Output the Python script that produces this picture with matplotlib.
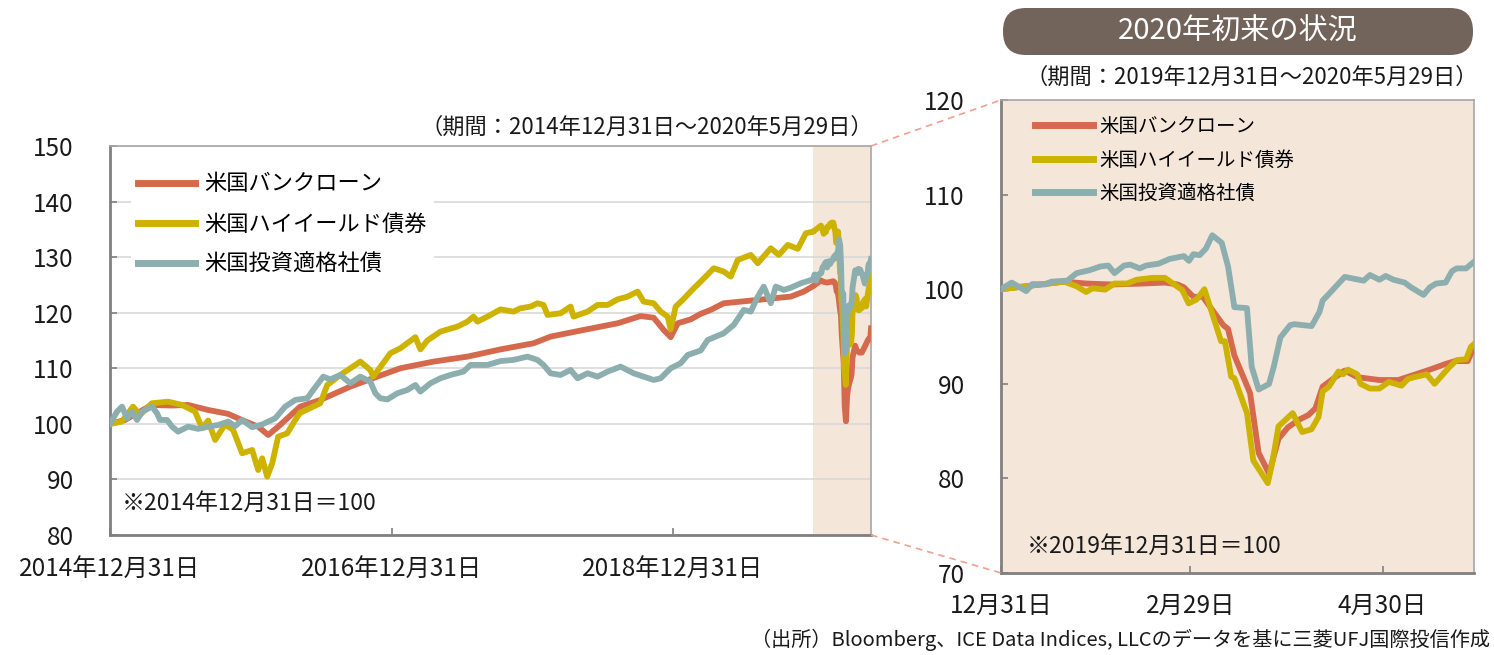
import numpy as np
import pandas as pd
import matplotlib
matplotlib.use("Agg")
import matplotlib.pyplot as plt
from matplotlib.patches import FancyBboxPatch
from matplotlib.lines import Line2D

plt.rcParams['font.family'] = ['Noto Sans CJK JP', 'DejaVu Sans']

# ---------------- data ----------------
series_names = ["米国バンクローン", "米国ハイイールド債券", "米国投資適格社債"]
colors = ["#D5694D", "#CDB300", "#8DAEAE"]

# Long-term chart (years since 2014-12-31, index 2014/12/31 = 100)
bl_years = [0, 0.107, 0.297, 0.439, 0.555, 0.698, 0.840, 0.937, 1.053, 1.125, 1.196, 1.352,
            1.495, 1.708, 1.900, 2.064, 2.299, 2.541, 2.776, 3.011, 3.132, 3.367, 3.609,
            3.772, 3.865, 3.936, 3.986, 4.036, 4.128, 4.199, 4.270, 4.363, 4.484, 4.605,
            4.719, 4.840, 4.932, 5.0]
bl_vals = [100.0, 100.7, 103.4, 103.3, 103.4, 102.5, 101.8, 100.7, 99.5, 98.0, 99.5, 103.1,
           104.3, 106.7, 108.5, 110.0, 111.2, 112.1, 113.4, 114.5, 115.7, 116.9, 118.1,
           119.4, 119.1, 116.9, 115.6, 118.1, 118.8, 119.8, 120.5, 121.7, 122.0, 122.3,
           122.6, 122.9, 123.8, 124.8]

# High yield / investment grade: horizontal reading positions (pixel columns of the reference)
hy_x = [110, 121.7, 133, 140, 151.7, 168, 182, 195, 202, 208, 215, 225, 233, 242, 252, 258,
        262, 267, 272, 278, 287, 295, 300, 320, 327, 340, 360, 370, 373, 390, 400, 415, 420,
        427, 440, 457, 467, 473, 477, 487, 500, 513, 520, 530, 537, 543, 547, 560, 570, 573,
        587, 597, 607, 617, 627, 637, 643, 653, 660, 667, 670, 675, 682, 692, 700, 713, 723,
        730, 737, 750, 757, 770, 778, 787, 797, 805, 812.5]
hy_vals = [100.0, 100.4, 103.1, 101.6, 103.7, 104.0, 103.4, 102.2, 99.2, 100.6, 97.1, 99.9,
           98.9, 94.7, 95.3, 91.7, 93.8, 90.5, 92.9, 97.7, 98.3, 100.7, 102.0, 103.7, 107.0,
           108.8, 111.2, 109.7, 108.5, 112.7, 113.6, 115.6, 113.4, 115.0, 116.6, 117.5, 118.4,
           119.3, 118.4, 119.3, 120.6, 120.2, 120.8, 121.1, 121.7, 121.4, 119.6, 119.9, 121.1,
           119.3, 120.2, 121.4, 121.4, 122.4, 122.9, 123.8, 122.0, 121.7, 120.2, 119.3, 117.0,
           121.1, 122.3, 124.2, 125.6, 128.0, 127.4, 126.5, 129.5, 130.4, 128.9, 131.6, 130.4,
           132.2, 131.5, 134.3, 134.6]

ig_x = [110, 117, 122, 127, 132, 137, 142, 152, 157, 160, 167, 172, 178, 188, 198, 208, 218,
        228, 235, 242, 252, 262, 268, 275, 285, 295, 307, 313, 323, 330, 340, 350, 360, 370,
        375, 380, 387, 397, 407, 415, 420, 430, 440, 450, 463, 470, 487, 500, 513, 527, 537,
        543, 550, 560, 570, 577, 587, 597, 607, 620, 633, 643, 653, 660, 670, 680, 687, 700,
        707, 723, 733, 743, 750, 757, 763, 770, 775, 783, 790, 800, 812.5]
ig_vals = [100.0, 102.2, 103.1, 101.0, 102.2, 100.7, 102.2, 103.1, 101.9, 100.7, 100.7, 99.5,
           98.6, 99.5, 99.1, 99.5, 99.8, 100.4, 99.6, 100.7, 99.4, 99.9, 100.4, 101.0, 103.1,
           104.3, 104.6, 106.1, 108.5, 108.0, 108.8, 107.3, 108.5, 107.6, 105.5, 104.6, 104.4,
           105.5, 106.1, 107.0, 105.8, 107.3, 108.2, 108.8, 109.4, 110.6, 110.6, 111.3, 111.5,
           112.1, 111.5, 110.6, 109.1, 108.8, 109.7, 108.2, 109.1, 108.5, 109.4, 110.3, 109.1,
           108.5, 107.9, 108.2, 110.0, 110.9, 112.4, 113.2, 115.1, 116.3, 117.8, 120.5, 120.2,
           122.9, 124.7, 121.7, 124.7, 124.1, 124.5, 125.3, 126.0]

# 2020 chart (days since 2019-12-31, index 2019/12/31 = 100)
bl_days = [0, 10, 20, 27, 35, 45, 52, 56, 58, 61, 64, 67, 70.5, 72, 74, 79, 81.7, 85, 88, 91,
           94.5, 97.5, 99.7, 102, 106, 109, 113, 120, 126, 131.5, 136, 141, 144, 148, 150]
bl_2020 = [100.0, 100.4, 100.8, 100.6, 100.5, 100.6, 100.7, 100.5, 100.2, 99.2, 99.2, 97.8,
           96.2, 95.8, 93.0, 89.0, 82.7, 80.5, 84.2, 85.4, 86.2, 86.7, 87.4, 89.7, 90.7, 91.4,
           90.7, 90.4, 90.4, 91.0, 91.5, 92.1, 92.4, 92.4, 93.9]

hy_days = [0, 10, 20, 24, 27, 29, 33, 36, 40, 43, 48, 52, 57.5, 59.5, 62, 64.5, 67, 69.8, 71,
           73, 74, 78, 80, 84.6, 86, 88, 92.5, 95.5, 98.5, 100.7, 102, 104, 107, 108.5, 110,
           113, 114, 117, 120, 123, 127, 129, 131, 135, 137.5, 142, 144.5, 147.5, 149, 150]
hy_2020 = [100.0, 100.4, 100.8, 100.3, 99.7, 100.1, 99.95, 100.6, 100.6, 101.0, 101.2, 101.2,
           99.9, 98.5, 98.9, 100.0, 97.4, 94.5, 94.5, 90.75, 90.6, 86.9, 81.9, 79.5, 81.6, 85.5,
           86.9, 84.9, 85.2, 86.5, 89.2, 89.7, 91.3, 91.0, 91.5, 91.0, 90.0, 89.5, 89.5, 90.2,
           89.8, 90.5, 90.7, 91.0, 90.0, 91.7, 92.5, 92.6, 93.9, 94.2]

ig_days = [0, 3.4, 8, 10, 14, 16, 21, 24, 28, 31.5, 34, 36, 39, 41, 44, 46, 50, 53.5, 58, 59.6,
           61, 63, 65, 67, 70, 72, 73.5, 74, 78, 79.5, 81.7, 85, 86.5, 88.6, 91.7, 93, 98.5, 101,
           102, 104, 109, 115, 117, 120, 122, 124.5, 128, 130, 134, 136, 138, 141, 143, 144.5,
           147.5, 150]
ig_2020 = [100.0, 100.7, 99.8, 100.55, 100.5, 100.8, 100.9, 101.7, 102.0, 102.4, 102.5, 101.7,
           102.5, 102.6, 102.2, 102.5, 102.7, 103.2, 103.5, 103.0, 103.7, 103.6, 104.3, 105.7,
           104.9, 102.4, 99.2, 98.1, 98.0, 91.8, 89.4, 89.98, 91.8, 94.9, 96.2, 96.3, 96.1, 97.6,
           98.8, 99.5, 101.3, 100.9, 101.5, 101.0, 101.4, 101.0, 100.7, 100.2, 99.4, 100.2,
           100.6, 100.7, 101.9, 102.2, 102.2, 102.9]

long_ticks = ["2014-12-31", "2016-12-31", "2018-12-31"]
long_tick_labels = ["2014年12月31日", "2016年12月31日", "2018年12月31日"]
short_ticks = ["2019-12-31", "2020-02-29", "2020-04-30"]
short_tick_labels = ["12月31日", "2月29日", "4月30日"]

# ---------------- helpers ----------------
W, H = 1494, 655
base_long = pd.Timestamp("2014-12-31")
base_short = pd.Timestamp("2019-12-31")
end_date = pd.Timestamp("2020-05-29")


def px_x(x):
    return base_long + pd.to_timedelta((np.array(x) - 110) / 140.5 * 365.25, unit="D")


def yr_dates(y):
    return base_long + pd.to_timedelta(np.array(y) * 365.25, unit="D")


def day_dates(d):
    return base_short + pd.to_timedelta(np.array(d, dtype=float), unit="D")


long_series = [
    (yr_dates(bl_years), np.array(bl_vals), day_dates(bl_days), np.array(bl_2020)),
    (px_x(hy_x), np.array(hy_vals), day_dates(hy_days), np.array(hy_2020)),
    (px_x(ig_x), np.array(ig_vals), day_dates(ig_days), np.array(ig_2020)),
]

shade = "#F5E6DA"
spine_dark = "#808080"
spine_light = "#A6A6A6"
txt = "#1A1A1A"

fig = plt.figure(figsize=(W / 100, H / 100), dpi=100)


def rect(l, t, r, b):
    return [l / W, 1 - b / H, (r - l) / W, (b - t) / H]


# ---------------- left chart ----------------
ax1 = fig.add_axes(rect(110, 146, 871, 535))
ax1.axvspan(base_short, end_date, color=shade, lw=0, zorder=0)
for (d1, v1, d2, v2), c, n in zip(long_series, colors, series_names):
    scale = v1[-1] / 100.0
    dd = np.concatenate([d1.values, d2.values])
    vv = np.concatenate([v1, v2 * scale])
    ax1.plot(dd, vv, color=c, lw=4.2, label=n, solid_joinstyle="round", zorder=3)
ax1.set_xlim(base_long, end_date)
ax1.set_ylim(80, 150)
ax1.set_yticks(range(80, 151, 10))
ax1.yaxis.grid(True, color="#D9D9D9", lw=1.2)
ax1.set_axisbelow(True)
ax1.set_xticks(pd.to_datetime(long_ticks))
ax1.set_xticklabels(long_tick_labels)
ax1.tick_params(axis="both", direction="in", length=5, width=1.2, colors=spine_dark,
                labelcolor=txt, labelsize=17.5)
ax1.tick_params(axis="x", pad=16)
ax1.tick_params(axis="y", pad=26)
for s in ["left", "bottom"]:
    ax1.spines[s].set_color(spine_dark)
    ax1.spines[s].set_linewidth(2)
for s in ["top", "right"]:
    ax1.spines[s].set_color(spine_light)
    ax1.spines[s].set_linewidth(1.2)
leg1 = ax1.legend(loc="upper left", bbox_to_anchor=(0.013, 0.978), fontsize=16,
                  handlelength=2.6, handletextpad=0.4, labelspacing=0.78,
                  frameon=True, facecolor="white", edgecolor="none", framealpha=1,
                  borderpad=0.3)
for h in leg1.get_lines():
    h.set_linewidth(5)
ax1.text(0.016, 0.082, "※2014年12月31日＝100", transform=ax1.transAxes,
         fontsize=16.5, color=txt, va="center", ha="left")

# ---------------- right chart ----------------
ax2 = fig.add_axes(rect(1001, 100, 1474, 573))
ax2.set_facecolor(shade)
for d, v, c, n in zip([day_dates(bl_days), day_dates(hy_days), day_dates(ig_days)],
                      [bl_2020, hy_2020, ig_2020], colors, series_names):
    ax2.plot(d, v, color=c, lw=4.2, label=n, solid_joinstyle="round", zorder=3)
ax2.set_xlim(base_short, end_date)
ax2.set_ylim(70, 120)
ax2.set_yticks(range(70, 121, 10))
ax2.set_xticks(pd.to_datetime(short_ticks))
ax2.set_xticklabels(short_tick_labels)
ax2.tick_params(axis="both", direction="in", length=5, width=1.2, colors=spine_dark,
                labelcolor=txt, labelsize=17.5)
ax2.tick_params(axis="x", pad=14)
ax2.tick_params(axis="y", pad=26)
for s in ["left", "bottom"]:
    ax2.spines[s].set_color(spine_dark)
    ax2.spines[s].set_linewidth(2)
for s in ["top", "right"]:
    ax2.spines[s].set_color(spine_light)
    ax2.spines[s].set_linewidth(1.2)
leg2 = ax2.legend(loc="upper left", bbox_to_anchor=(0.035, 1.003), fontsize=14,
                  handlelength=3.0, handletextpad=0.3, labelspacing=0.64,
                  frameon=False)
for h in leg2.get_lines():
    h.set_linewidth(5)
ax2.text(0.055, 0.057, "※2019年12月31日＝100", transform=ax2.transAxes,
         fontsize=16.5, color=txt, va="center", ha="left")

# ---------------- overlay (pixel coords) ----------------
ov = fig.add_axes([0, 0, 1, 1])
ov.set_xlim(0, W)
ov.set_ylim(H, 0)
ov.axis("off")
ov.patch.set_alpha(0)

box = FancyBboxPatch((1003, 8), 470, 47,
                     boxstyle="round,pad=0,rounding_size=23",
                     fc="#72635B", ec="none")
ov.add_patch(box)
ov.text(1238, 32, "2020年初来の状況", color="white", fontsize=21,
        ha="center", va="center")
ov.text(1478, 77, "（期間：2019年12月31日～2020年5月29日）", fontsize=16,
        ha="right", va="center", color=txt)
ov.text(873, 127, "（期間：2014年12月31日～2020年5月29日）", fontsize=16,
        ha="right", va="center", color=txt)
ov.text(1490, 640, "（出所）Bloomberg、ICE Data Indices, LLCのデータを基に三菱UFJ国際投信作成",
        fontsize=14.5, ha="right", va="center", color=txt)

ov.add_line(Line2D([871, 1001], [146, 100], color="#F0A090", lw=1.2, ls=(0, (4, 3))))
ov.add_line(Line2D([871, 1001], [535, 573], color="#F0A090", lw=1.2, ls=(0, (4, 3))))

fig.savefig("out.png", dpi=100)
